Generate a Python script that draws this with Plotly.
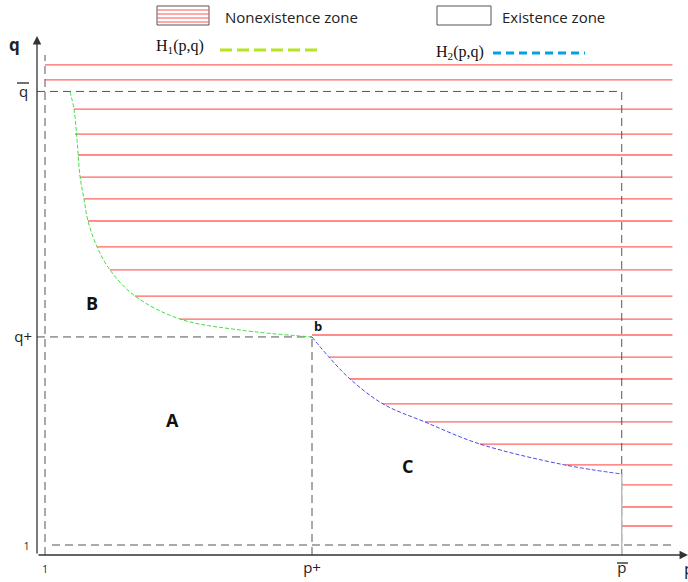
import plotly.graph_objects as go

# ---------------- data (p, q units) ----------------
p_one, q_one = 1.0, 1.0
p_plus, q_plus = 3.0, 2.5
p_bar, q_bar = 5.32, 4.27

# H1(p,q) curve: from (near q_bar) down to point b
h1_p = [1.187, 1.217, 1.240, 1.262, 1.292, 1.322, 1.390, 1.487, 1.674, 2.011, 2.461, 3.0]
h1_q = [4.27, 4.143, 3.920, 3.660, 3.495, 3.336, 3.149, 2.983, 2.795, 2.629, 2.550, 2.5]
# H2(p,q) curve: from b down to p_bar
h2_p = [3.0, 3.127, 3.285, 3.532, 3.846, 4.258, 4.895, 5.32]
h2_q = [2.5, 2.355, 2.197, 2.017, 1.887, 1.728, 1.577, 1.512]

# nonexistence-zone hatch lines (level q, starting p)
hatch_q = [4.461, 4.353, 4.143, 3.963, 3.812, 3.653, 3.495, 3.336, 3.149, 2.983, 2.795,
           2.629, 2.514, 2.355, 2.197, 2.017, 1.887, 1.728, 1.577, 1.433, 1.274, 1.137]
hatch_p0 = [1.0, 1.0, 1.217, 1.225, 1.247, 1.262, 1.292, 1.322, 1.390, 1.487, 1.674,
            2.011, 3.0, 3.127, 3.285, 3.532, 3.846, 4.258, 4.895, 5.32, 5.32, 5.32]
hatch_p1 = 5.70

x_tickvals = [p_one, p_plus, p_bar]
x_ticktext = ["<span style='font-size:10px'>1</span>", "p+", "p"]
y_tickvals = [q_one, q_plus, q_bar]
y_ticktext = ["<span style='font-size:10px'>1 </span>", "q+", "q "]

# ---------------- geometry helpers ----------------
W, H = 688, 582
ML, MB = 37, 27
P_UNIT, Q_UNIT = 133.5, 138.7


def p_of(x):
    return 1 + (x - 45) / P_UNIT


def q_of(y):
    return 1 + (545 - y) / Q_UNIT


def fx(x):
    return (x - ML) / (W - ML)


def fy(y):
    return (H - MB - y) / (H - MB)


FONT = "Open Sans"
fig = go.Figure()

# hatch lines
hx, hy = [], []
for q, p0 in zip(hatch_q, hatch_p0):
    hx += [p0, hatch_p1, None]
    hy += [q, q, None]
fig.add_trace(go.Scatter(x=hx, y=hy, mode="lines",
                         line=dict(color="#ff6464", width=1.3), hoverinfo="skip"))

# dashed reference lines
dash_col = "#555555"
ref_lines = [
    ([p_one, p_one], [q_of(555), q_of(55)]),
    ([p_of(52), hatch_p1], [q_one, q_one]),
    ([p_of(37), p_bar], [q_bar, q_bar]),
    ([p_bar, p_bar], [q_of(555), q_bar]),
    ([p_of(37), p_plus], [q_plus, q_plus]),
    ([p_plus, p_plus], [q_of(555), q_plus]),
]
for xs, ys in ref_lines:
    fig.add_trace(go.Scatter(x=xs, y=ys, mode="lines",
                             line=dict(color=dash_col, width=1, dash="8px,5px"),
                             hoverinfo="skip"))
# grey solid segment at p_bar below H2 end
fig.add_trace(go.Scatter(x=[p_bar, p_bar], y=[q_of(555), h2_q[-1]], mode="lines",
                         line=dict(color="#bbbbbb", width=1.5), hoverinfo="skip"))

# curves
fig.add_trace(go.Scatter(x=h1_p, y=h1_q, mode="lines", line_shape="spline",
                         line=dict(color="#44dd44", width=1, dash="4px,2px"), hoverinfo="skip"))
fig.add_trace(go.Scatter(x=h2_p, y=h2_q, mode="lines", line_shape="spline",
                         line=dict(color="#4a4af0", width=1, dash="4px,2px"), hoverinfo="skip"))

shapes = []
annotations = []


def label(text, x, y, size, family=FONT, xanchor="center", color="#222"):
    annotations.append(dict(x=fx(x), y=fy(y), xref="paper", yref="paper", text=text,
                            xanchor=xanchor, yanchor="middle", showarrow=False,
                            font=dict(family=family, size=size, color=color)))


# axes arrows
annotations.append(dict(x=p_of(37), y=q_of(36), ax=p_of(37), ay=q_of(555),
                        xref="x", yref="y", axref="x", ayref="y", text="",
                        showarrow=True, arrowhead=2, arrowsize=1.3, arrowwidth=1.3,
                        arrowcolor="#333333"))
annotations.append(dict(x=p_of(688), y=q_of(555), ax=p_of(37), ay=q_of(555),
                        xref="x", yref="y", axref="x", ayref="y", text="",
                        showarrow=True, arrowhead=2, arrowsize=1.3, arrowwidth=1.3,
                        arrowcolor="#333333"))

# overline bars for q-bar / p-bar tick labels
shapes.append(dict(type="line", xref="paper", yref="paper", x0=fx(17), x1=fx(29),
                   y0=fy(83), y1=fy(83), line=dict(color="#222", width=1.3)))
shapes.append(dict(type="line", xref="paper", yref="paper", x0=fx(617), x1=fx(628),
                   y0=fy(563), y1=fy(563), line=dict(color="#222", width=1.3)))

# axis names
label("<b>q</b>", 14, 45, 17)
label("p", 682, 568, 17, xanchor="left")

# region labels
for txt, x, y, s in [("A", 172, 420, 18), ("B", 92, 303, 18), ("C", 407, 466, 18),
                     ("b", 318, 326, 13)]:
    annotations.append(dict(x=p_of(x), y=q_of(y), xref="x", yref="y",
                            text=f"<b>{txt}</b>", showarrow=False,
                            xanchor="center", yanchor="middle",
                            font=dict(family=FONT, size=s, color="#111")))

# legend: nonexistence box
shapes.append(dict(type="rect", xref="paper", yref="paper", x0=fx(157), x1=fx(209),
                   y0=fy(25), y1=fy(6), line=dict(color="#555", width=1)))
for yy in [10, 14, 18, 22]:
    shapes.append(dict(type="line", xref="paper", yref="paper", x0=fx(157), x1=fx(209),
                       y0=fy(yy), y1=fy(yy), line=dict(color="#ff5555", width=1)))
label("Nonexistence zone", 223, 17, 15, xanchor="left")
# existence box
shapes.append(dict(type="rect", xref="paper", yref="paper", x0=fx(437), x1=fx(491),
                   y0=fy(25), y1=fy(6), line=dict(color="#555", width=1)))
label("Existence zone", 500, 17, 15, xanchor="left")
# H1 / H2 legend entries
label("H<sub>1</sub>(p,q)", 154, 46, 16, family="Liberation Serif", xanchor="left", color="#111")
shapes.append(dict(type="line", xref="paper", yref="paper", x0=fx(220), x1=fx(318),
                   y0=fy(50), y1=fy(50), line=dict(color="#b5e61d", width=3, dash="12px,5px")))
label("H<sub>2</sub>(p,q)", 434, 52, 16, family="Liberation Serif", xanchor="left", color="#111")
shapes.append(dict(type="line", xref="paper", yref="paper", x0=fx(493), x1=fx(585),
                   y0=fy(53), y1=fy(53), line=dict(color="#00a2e8", width=3, dash="8px,5px")))

fig.update_layout(
    width=W, height=H,
    margin=dict(l=ML, r=0, t=0, b=MB),
    paper_bgcolor="white", plot_bgcolor="white",
    showlegend=False,
    shapes=shapes, annotations=annotations,
    xaxis=dict(range=[p_of(37), p_of(688)], showgrid=False, zeroline=False, showline=False,
               tickvals=x_tickvals, ticktext=x_ticktext, ticks="", ticklabelstandoff=2,
               tickfont=dict(family=FONT, size=15, color="#222"), fixedrange=True),
    yaxis=dict(range=[q_of(555), q_of(0)], showgrid=False, zeroline=False, showline=False,
               tickvals=y_tickvals, ticktext=y_ticktext, ticks="", ticklabelstandoff=4,
               tickfont=dict(family=FONT, size=15, color="#222"), fixedrange=True),
)

fig.write_html("out.html")
